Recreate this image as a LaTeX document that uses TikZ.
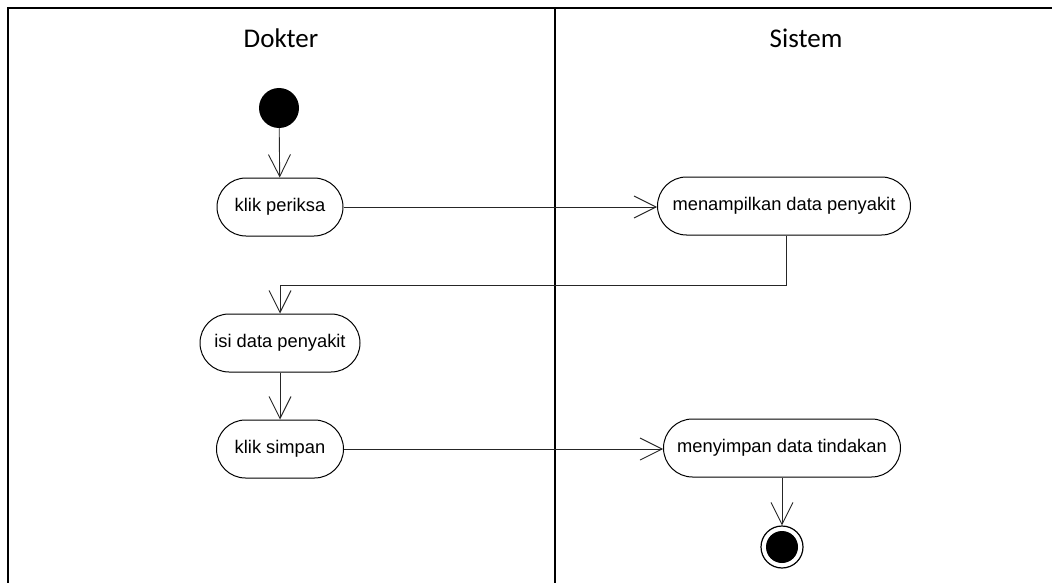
\documentclass[tikz,border=0pt]{standalone}
\usepackage{fontspec}
\setmainfont{Liberation Sans}
\newfontfamily\lanefont{Carlito}
\usetikzlibrary{arrows.meta}

\begin{document}
\begin{tikzpicture}[x=1pt,y=-1pt,
  action/.style={draw, line width=1pt, rounded corners=29pt, minimum height=58pt,
    inner sep=0pt, font=\fontsize{18.3}{20}\selectfont},
  flow/.style={draw=black!85, line width=0.9pt,
    -{Straight Barb[length=22pt,width=22pt,line width=0.9pt]}},
  lane/.style={font=\lanefont\fontsize{27}{30}\selectfont},
  frameline/.style={line width=2pt}]
\useasboundingbox (0,0) rectangle (1052,583);

% swimlane frame
\draw[frameline] (8,583) -- (8,8) -- (1052,8);
\draw[frameline] (555,8) -- (555,583);
\node[lane] (dokter) at (281,38) {Dokter};
\node[lane] (sistem) at (806,38) {Sistem};

% states
\node[circle, fill=black, minimum size=40pt, inner sep=0pt] (start) at (279,108) {};
\node[action, minimum width=126pt] (periksa) at (280,207) {klik periksa};
\node[action, minimum width=253pt] (tampil) at (784,206) {menampilkan data penyakit};
\node[action, minimum width=160pt] (isi) at (280,343) {isi data penyakit};
\node[action, minimum width=127pt] (simpan) at (280,449) {klik simpan};
\node[action, minimum width=237pt] (tindakan) at (782,448) {menyimpan data tindakan};
\node[circle, draw, line width=1.2pt, minimum size=42pt, inner sep=0pt] (end) at (782,547) {};
\fill (end.center) circle (16pt);

% transitions
\coordinate (turn) at (786,285);
\draw[flow] (start) -- (periksa);
\draw[flow] (periksa.east) -- (tampil.west |- periksa.east);
\draw[flow] (tampil.south -| turn) -- (turn) -| (isi.north);
\draw[flow] (isi) -- (simpan);
\draw[flow] (simpan.east) -- (tindakan.west |- simpan.east);
\draw[flow] (tindakan) -- (end);
\end{tikzpicture}
\end{document}
